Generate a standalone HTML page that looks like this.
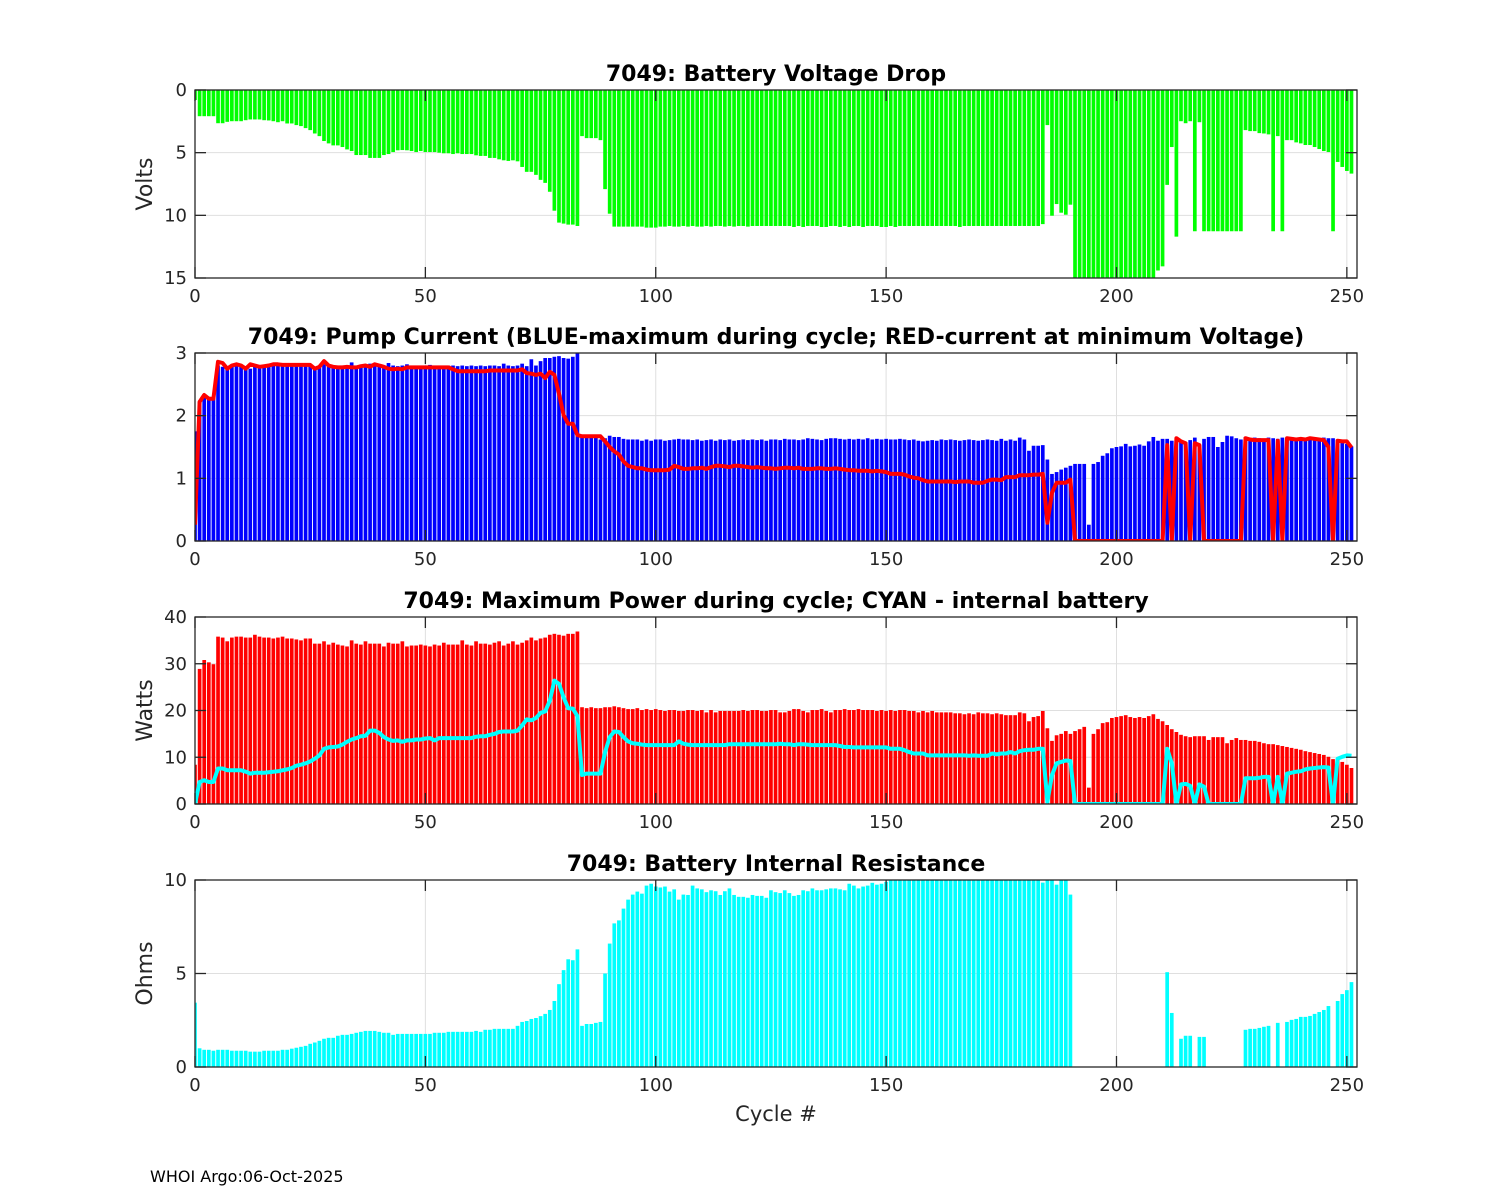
<!DOCTYPE html>
<html><head><meta charset="utf-8">
<style>
html,body{margin:0;padding:0;background:#fff;}
svg{display:block;font-family:"DejaVu Sans","Liberation Sans",sans-serif;}
</style></head>
<body>
<svg id="fig" width="1500" height="1200" viewBox="0 0 1500 1200" xmlns="http://www.w3.org/2000/svg">
<rect x="0" y="0" width="1500" height="1200" fill="#fff"/>
<text x="150" y="1182" font-size="16" fill="#000">WHOI Argo:06-Oct-2025</text>
<text x="776" y="1121" font-size="21" text-anchor="middle" fill="#262626">Cycle #</text>
</svg>
<script>
const xTicks = [0,50,100,150,200,250];
const voltTicks = [0,5,10,15];
const ampTicks = [0,1,2,3];
const wattTicks = [0,10,20,30,40];
const ohmTicks = [0,5,10];

const voltDrop = [
0.8,2.09,2.09,2.09,2.09,2.65,2.65,2.54,2.49,2.49,
2.49,2.41,2.35,2.35,2.35,2.41,2.43,2.49,2.57,2.49,
2.67,2.67,2.8,2.88,3.04,3.2,3.47,3.68,4.07,4.26,
4.42,4.42,4.55,4.74,4.87,5.19,5.19,5.19,5.42,5.42,
5.42,5.19,5.11,4.95,4.81,4.79,4.81,4.87,4.95,4.87,
4.95,4.95,4.95,5.0,5.05,5.05,5.11,5.05,5.11,5.11,
5.11,5.21,5.26,5.26,5.42,5.42,5.53,5.61,5.66,5.61,
5.69,6.14,6.53,6.53,6.77,7.17,7.41,8.12,9.63,10.58,
10.66,10.74,10.74,10.85,3.68,3.84,3.84,3.84,4.0,7.91,
9.87,10.9,10.9,10.9,10.9,10.9,10.9,10.9,10.98,10.98,
10.98,10.9,10.9,10.85,10.9,10.9,10.85,10.9,10.85,10.9,
10.9,10.85,10.9,10.85,10.85,10.9,10.85,10.9,10.85,10.85,
10.9,10.85,10.85,10.85,10.85,10.85,10.85,10.85,10.85,10.85,
10.93,10.85,10.93,10.85,10.85,10.85,10.93,10.93,10.85,10.85,
10.93,10.85,10.93,10.85,10.85,10.93,10.85,10.85,10.85,10.93,
10.93,10.85,10.93,10.85,10.85,10.85,10.85,10.85,10.85,10.85,
10.85,10.85,10.85,10.85,10.85,10.85,10.93,10.85,10.85,10.85,
10.85,10.85,10.85,10.85,10.85,10.85,10.85,10.85,10.85,10.85,
10.85,10.85,10.85,10.85,10.7,2.8,10.03,9.1,9.79,9.95,
9.15,15.5,15.5,15.5,15.5,15.5,15.5,15.5,15.5,15.5,
15.5,15.5,15.5,15.5,15.5,15.5,15.5,15.5,15.5,14.4,
14.07,7.57,4.55,11.7,2.49,2.65,2.49,11.27,2.57,11.27,
11.27,11.27,11.27,11.27,11.27,11.27,11.27,11.27,3.2,3.28,
3.28,3.44,3.47,3.54,11.27,3.68,11.27,4.0,4.0,4.18,
4.26,4.39,4.39,4.55,4.71,4.87,4.95,11.27,5.74,6.14,
6.46,6.67];

const pumpMax = [
1.75,2.22,2.34,2.3,2.3,2.8,2.78,2.75,2.78,2.79,
2.78,2.75,2.75,2.78,2.8,2.78,2.79,2.8,2.8,2.79,
2.8,2.79,2.8,2.79,2.8,2.8,2.78,2.8,2.82,2.8,
2.79,2.8,2.79,2.8,2.85,2.8,2.79,2.8,2.83,2.79,
2.8,2.79,2.84,2.8,2.79,2.8,2.82,2.8,2.79,2.8,
2.8,2.81,2.79,2.8,2.79,2.8,2.8,2.79,2.8,2.79,
2.8,2.79,2.8,2.79,2.8,2.8,2.79,2.83,2.8,2.79,
2.8,2.83,2.79,2.9,2.8,2.87,2.92,2.92,2.94,2.95,
2.92,2.91,2.94,3.0,1.69,1.69,1.69,1.69,1.62,1.64,
1.68,1.66,1.66,1.63,1.62,1.62,1.62,1.6,1.62,1.6,
1.62,1.62,1.6,1.61,1.62,1.63,1.62,1.62,1.61,1.62,
1.6,1.61,1.62,1.6,1.62,1.61,1.62,1.6,1.61,1.62,
1.61,1.62,1.61,1.62,1.6,1.62,1.62,1.61,1.63,1.62,
1.62,1.61,1.62,1.64,1.63,1.62,1.61,1.63,1.64,1.64,
1.63,1.62,1.63,1.62,1.63,1.62,1.64,1.62,1.63,1.62,
1.63,1.62,1.62,1.63,1.62,1.61,1.62,1.6,1.59,1.6,
1.61,1.6,1.62,1.61,1.62,1.61,1.6,1.61,1.62,1.61,
1.6,1.61,1.62,1.61,1.6,1.63,1.6,1.62,1.6,1.65,
1.62,1.44,1.52,1.52,1.53,1.3,1.07,1.1,1.14,1.17,
1.2,1.23,1.23,1.23,0.26,1.23,1.26,1.36,1.4,1.48,
1.5,1.51,1.55,1.51,1.52,1.54,1.52,1.59,1.66,1.6,
1.63,1.63,1.6,1.65,1.58,1.58,1.61,1.65,1.53,1.63,
1.66,1.66,1.5,1.58,1.68,1.67,1.64,1.62,1.66,1.63,
1.65,1.64,1.63,1.65,1.64,1.63,1.65,1.64,1.66,1.65,
1.64,1.65,1.64,1.63,1.64,1.65,1.64,1.64,1.62,1.6,
1.55,1.51];

const pumpAtMinV = [
0.26,2.22,2.33,2.27,2.27,2.86,2.84,2.75,2.8,2.82,
2.8,2.75,2.82,2.8,2.78,2.79,2.8,2.82,2.82,2.81,
2.81,2.81,2.81,2.81,2.81,2.81,2.75,2.78,2.87,2.8,
2.78,2.77,2.77,2.78,2.77,2.77,2.79,2.8,2.78,2.82,
2.8,2.78,2.75,2.74,2.75,2.74,2.77,2.77,2.77,2.77,
2.77,2.77,2.77,2.77,2.77,2.77,2.74,2.71,2.71,2.71,
2.71,2.71,2.71,2.71,2.72,2.72,2.72,2.72,2.72,2.72,
2.72,2.74,2.68,2.67,2.65,2.67,2.6,2.7,2.65,2.35,
2.01,1.87,1.87,1.69,1.67,1.67,1.67,1.67,1.67,1.59,
1.5,1.43,1.38,1.27,1.2,1.18,1.16,1.16,1.14,1.13,
1.13,1.13,1.13,1.14,1.2,1.18,1.15,1.15,1.16,1.16,
1.17,1.15,1.18,1.2,1.2,1.19,1.18,1.2,1.2,1.19,
1.18,1.17,1.18,1.17,1.16,1.16,1.15,1.16,1.17,1.17,
1.16,1.17,1.15,1.15,1.15,1.16,1.16,1.15,1.15,1.16,
1.15,1.14,1.13,1.13,1.12,1.12,1.12,1.11,1.12,1.11,
1.1,1.07,1.07,1.07,1.06,1.03,1.01,1.0,0.97,0.95,
0.95,0.95,0.95,0.95,0.95,0.94,0.95,0.95,0.95,0.93,
0.93,0.93,0.96,0.98,0.98,0.97,1.02,1.02,1.02,1.05,
1.05,1.05,1.06,1.06,1.07,0.29,0.77,0.93,0.93,0.93,
0.98,0,0,0,0,0,0,0,0,0,
0,0,0,0,0,0,0,0,0,0,
0,1.53,0,1.64,1.59,1.56,0,1.56,1.53,0,
0,0,0,0,0,0,0,0,1.64,1.62,
1.61,1.61,1.61,1.61,0,1.6,0,1.64,1.63,1.62,
1.63,1.62,1.64,1.63,1.62,1.61,1.5,0,1.6,1.59,
1.59,1.49];

const maxPower = [
8.4,28.9,30.8,30.3,29.9,35.8,35.6,34.8,35.6,35.8,
35.8,35.6,35.6,36.2,35.8,35.6,35.6,35.4,35.6,35.8,
35.4,35.4,35.2,35.0,35.4,35.4,34.3,34.3,34.8,34.1,
34.5,34.1,33.9,33.7,35.0,34.3,34.1,34.8,34.3,34.3,
34.3,33.7,34.5,34.3,34.3,34.8,33.7,33.9,33.9,34.1,
33.9,33.7,34.1,33.9,34.5,34.1,34.1,34.1,35.0,34.1,
33.9,34.8,34.3,34.3,34.1,34.5,34.8,33.9,34.3,34.8,
34.1,34.5,35.0,35.6,35.0,35.4,35.6,36.2,36.4,36.2,
36.0,36.4,36.4,36.9,20.7,20.5,20.7,20.5,20.5,20.7,
20.7,20.9,20.7,20.5,20.3,20.3,20.5,20.1,20.3,20.1,
20.3,20.1,19.9,20.1,20.1,19.9,19.9,20.1,20.1,19.9,
20.1,19.6,20.1,19.6,19.9,19.9,19.9,19.9,19.9,20.1,
19.9,20.1,20.1,19.9,19.9,20.1,20.1,19.6,19.6,19.9,
20.3,20.3,19.9,19.6,20.1,20.1,20.3,19.9,19.6,20.1,
20.1,20.3,20.1,20.1,20.3,20.1,20.1,20.1,19.9,20.1,
19.9,20.1,19.9,20.1,20.1,19.9,19.9,19.6,19.9,19.6,
19.9,19.6,19.6,19.6,19.6,19.4,19.4,19.2,19.4,19.2,
19.6,19.4,19.4,19.2,19.4,19.2,19.0,19.0,19.0,19.6,
19.4,17.7,18.6,18.8,19.9,16.2,13.5,14.7,15.0,15.6,
15.0,15.6,16.0,16.5,3.5,15.0,16.0,17.3,17.5,18.4,
18.6,18.8,19.0,18.6,18.4,18.6,18.4,18.8,19.2,18.2,
17.7,16.9,16.0,15.4,14.8,14.5,14.3,14.5,14.5,14.5,
13.7,14.3,14.3,14.3,13.0,13.7,14.1,13.7,13.7,13.5,
13.5,13.3,13.0,12.8,12.8,12.6,12.4,12.2,12.0,11.8,
11.6,11.3,11.1,10.9,10.7,10.5,10.1,9.6,9.4,9.0,
8.4,7.7];

const internalPower = [
0,4.7,5.1,4.7,4.7,7.6,7.6,7.2,7.2,7.2,
7.2,6.9,6.5,6.7,6.7,6.7,6.8,6.9,7.0,7.2,
7.4,7.7,8.2,8.4,8.7,9.1,9.7,10.4,11.8,12.1,
12.2,12.3,12.7,13.3,13.8,14.1,14.5,14.6,15.7,15.7,
15.2,14.3,13.8,13.5,13.6,13.3,13.6,13.6,13.8,13.8,
14.0,14.1,13.6,14.1,14.1,14.1,14.1,14.1,14.1,14.1,
14.1,14.4,14.5,14.5,14.8,15.0,15.4,15.5,15.5,15.5,
15.7,16.8,18.1,17.9,18.4,19.5,19.8,22.1,26.4,25.7,
22.8,20.5,20.4,18.8,6.2,6.5,6.5,6.5,6.5,11.1,
14.3,15.5,15.4,14.3,13.4,13.0,12.9,12.7,12.6,12.6,
12.6,12.6,12.6,12.6,12.6,13.4,12.9,12.7,12.6,12.6,
12.6,12.6,12.6,12.6,12.6,12.6,12.8,12.8,12.8,12.8,
12.8,12.8,12.8,12.8,12.8,12.8,12.8,12.9,12.8,12.8,
12.6,12.8,12.8,12.7,12.6,12.6,12.6,12.6,12.6,12.6,
12.4,12.2,12.2,12.1,12.1,12.1,12.1,12.1,12.1,12.1,
12.1,11.8,11.8,11.8,11.5,11.1,10.8,10.8,10.8,10.4,
10.4,10.4,10.4,10.4,10.4,10.4,10.4,10.4,10.3,10.4,
10.3,10.3,10.3,10.8,10.6,10.8,10.8,11.1,10.8,11.3,
11.5,11.6,11.6,11.8,11.8,0.5,6.2,8.7,9.0,9.3,
9.2,0,0,0,0,0,0,0,0,0,
0,0,0,0,0,0,0,0,0,0,
0,11.8,8.7,0,4.2,4.3,3.9,0,4.2,3.7,
0,0,0,0,0,0,0,0,5.5,5.5,
5.5,5.6,5.8,5.8,0,5.8,0,6.5,6.7,6.9,
7.0,7.4,7.6,7.7,7.8,7.9,7.8,0,9.7,10.1,
10.4,10.3];

const resistance = [
3.44,1.0,0.92,0.92,0.87,0.92,0.92,0.92,0.87,0.87,
0.87,0.87,0.82,0.82,0.82,0.87,0.87,0.87,0.87,0.92,
0.92,0.98,1.03,1.08,1.13,1.24,1.31,1.4,1.51,1.56,
1.56,1.67,1.72,1.72,1.77,1.83,1.88,1.93,1.93,1.93,
1.88,1.83,1.83,1.72,1.77,1.77,1.77,1.77,1.77,1.77,
1.77,1.77,1.83,1.83,1.83,1.88,1.88,1.88,1.88,1.88,
1.88,1.93,1.88,1.99,1.99,2.04,2.04,2.04,2.04,2.04,
2.2,2.41,2.46,2.57,2.62,2.72,2.84,3.05,3.53,4.43,
5.18,5.76,5.71,6.29,2.2,2.3,2.3,2.36,2.41,5.0,
6.6,7.68,7.84,8.47,8.95,9.22,9.38,9.27,9.7,9.8,
9.65,9.6,9.65,9.38,9.5,8.95,9.22,9.2,9.7,9.55,
9.5,9.35,9.45,9.4,9.2,9.4,9.55,9.2,9.1,9.1,
9.05,9.2,9.15,9.15,9.05,9.45,9.35,9.3,9.45,9.3,
9.15,9.2,9.45,9.4,9.55,9.45,9.45,9.5,9.55,9.55,
9.5,9.45,9.8,9.7,9.55,9.65,9.7,9.85,9.75,9.8,
9.9,10.5,10.5,10.5,10.5,10.5,10.5,10.5,10.5,10.5,
10.5,10.5,10.5,10.5,10.5,10.5,10.5,10.5,10.5,10.5,
10.5,10.5,10.5,10.5,10.5,10.5,10.5,10.5,10.5,10.5,
10.5,10.5,10.5,10.5,9.86,10.5,10.5,9.75,10.5,10.5,
9.22,null,null,null,null,null,null,null,null,null,
null,null,null,null,null,null,null,null,null,null,
null,5.07,2.89,null,1.51,1.67,1.67,null,1.61,1.61,
null,null,null,null,null,null,null,null,1.99,2.04,
2.04,2.09,2.15,2.2,null,2.36,null,2.41,2.52,2.57,
2.68,2.68,2.73,2.84,2.94,3.05,3.26,null,3.53,3.9,
4.11,4.54];

const NS = 'http://www.w3.org/2000/svg';
const svg = document.getElementById('fig');
const X0 = 195, X1 = 1357, XMAX = 252.2;
function xs(c){ return X0 + c * (X1 - X0) / XMAX; }
function mk(tag, attrs, parent){
  const e = document.createElementNS(NS, tag);
  for (const k in attrs) e.setAttribute(k, attrs[k]);
  (parent || svg).appendChild(e);
  return e;
}

function makePanel(id, top, bot, ymin, ymax, reversed, yTicks, title, ylabel){
  const g = mk('g', {});
  
  
  const ys = v => reversed ? top + (v - ymin) / (ymax - ymin) * (bot - top)
                           : bot - (v - ymin) / (ymax - ymin) * (bot - top);
  const clip = mk('clipPath', {id: 'clip-' + id}, g);
  mk('rect', {x: X0, y: top, width: X1 - X0, height: bot - top}, clip);
  const grid = mk('g', {stroke: '#dfdfdf', 'stroke-width': 1}, g);
  
  
  xTicks.forEach(t => mk('line', {x1: xs(t), x2: xs(t), y1: top, y2: bot}, grid));
  yTicks.forEach(t => mk('line', {x1: X0, x2: X1, y1: ys(t), y2: ys(t)}, grid));
  const plot = mk('g', {'clip-path': 'url(#clip-' + id + ')'}, g);
  const tt = mk('text', {x: 776, y: top - 9, 'font-size': 22, 'font-weight': 'bold', 'text-anchor': 'middle', fill: '#000'}, g);
  tt.textContent = title;
  
  
  if (ylabel){
    const cy = (top + bot) / 2;
    const yl = mk('text', {x: 152, y: cy, 'font-size': 22, 'text-anchor': 'middle', fill: '#262626', transform: 'rotate(-90 152 ' + cy + ')'}, g);
    yl.textContent = ylabel;
    
    
  }
  return {g, plot, ys, top, bot, ymin, yTicks, reversed};
}

function drawBars(P, vals, color, name){
  const bw = 0.8 * (X1 - X0) / XMAX;
  const base = P.ys(P.ymin);
  vals.forEach((v, i) => {
    if (v === null || v === undefined) return;
    const yv = P.ys(v);
    const r = mk('rect', {x: xs(i) - bw / 2, y: Math.min(base, yv), width: bw, height: Math.abs(yv - base), fill: color}, P.plot);
    
    
  });
}

function drawLine(P, vals, color, name){
  const pts = vals.map((v, i) => xs(i).toFixed(1) + ',' + P.ys(v).toFixed(1)).join(' ');
  const l = mk('polyline', {points: pts, fill: 'none', stroke: color, 'stroke-width': 4, 'stroke-linejoin': 'round'}, P.plot);
  
  
}

function drawAxes(P, id){
  const a = mk('g', {stroke: '#262626', 'stroke-width': 1.3, fill: 'none'}, P.g);
  
  
  mk('rect', {x: X0, y: P.top, width: X1 - X0, height: P.bot - P.top}, a);
  xTicks.forEach(t => {
    mk('line', {x1: xs(t), x2: xs(t), y1: P.bot, y2: P.bot - 11}, a);
    mk('line', {x1: xs(t), x2: xs(t), y1: P.top, y2: P.top + 11}, a);
    const tx = mk('text', {x: xs(t), y: P.bot + 24, 'font-size': 18, 'text-anchor': 'middle', fill: '#262626', stroke: 'none'}, P.g);
    tx.textContent = t;
    
    
  });
  P.yTicks.forEach(t => {
    const y = P.ys(t);
    mk('line', {x1: X0, x2: X0 + 11, y1: y, y2: y}, a);
    mk('line', {x1: X1, x2: X1 - 11, y1: y, y2: y}, a);
    const ty = mk('text', {x: 187, y: y + 6, 'font-size': 18, 'text-anchor': 'end', fill: '#262626', stroke: 'none'}, P.g);
    ty.textContent = t;
    
    
  });
}

const P1 = makePanel('voltage', 90, 278, 0, 15, true, voltTicks, '7049: Battery Voltage Drop', 'Volts');
drawBars(P1, voltDrop, '#00ff00', 'voltage-bar');
drawAxes(P1, 'voltage');

const P2 = makePanel('current', 353, 541, 0, 3, false, ampTicks, '7049: Pump Current (BLUE-maximum during cycle; RED-current at minimum Voltage)', null);
drawBars(P2, pumpMax, '#0000ff', 'current-max-bar');
drawLine(P2, pumpAtMinV, '#ff0000', 'current-at-min-voltage-line');
drawAxes(P2, 'current');

const P3 = makePanel('power', 617, 804, 0, 40, false, wattTicks, '7049: Maximum Power during cycle; CYAN - internal battery', 'Watts');
drawBars(P3, maxPower, '#ff0000', 'power-bar');
drawLine(P3, internalPower, '#00ffff', 'internal-power-line');
drawAxes(P3, 'power');

const P4 = makePanel('resistance', 880, 1067, 0, 10, false, ohmTicks, '7049: Battery Internal Resistance', 'Ohms');
drawBars(P4, resistance, '#00ffff', 'resistance-bar');
drawAxes(P4, 'resistance');
</script>
</body></html>
